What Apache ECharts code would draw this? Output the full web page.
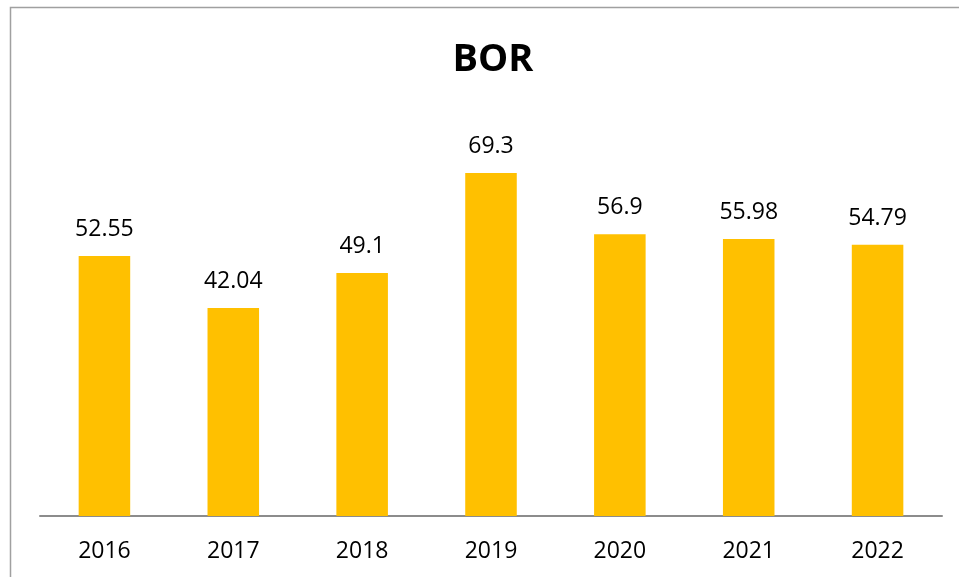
<!DOCTYPE html>
<html>
<head>
<meta charset="utf-8">
<script src="https://cdn.jsdelivr.net/npm/echarts@6/dist/echarts.min.js"></script>
<style>
  html, body { margin: 0; padding: 0; background: #fff; }
  #chart { width: 959px; height: 577px; }
</style>
</head>
<body>
<div id="chart"></div>
<script>
// Bed occupancy rate by year
const years = ['2016', '2017', '2018', '2019', '2020', '2021', '2022'];
const borValues = [52.55, 42.04, 49.1, 69.3, 56.9, 55.98, 54.79];
const chartTitle = 'BOR';

const FONT = '"Open Sans", "Noto Sans", sans-serif';

const chart = echarts.init(document.getElementById('chart'), null, { renderer: 'canvas' });

chart.setOption({
  animation: false,
  backgroundColor: '#ffffff',
  title: {
    text: chartTitle,
    left: 488,
    top: 36,
    textAlign: 'center',
    textStyle: { fontFamily: FONT, fontWeight: 'bold', fontSize: 38, color: '#000000' }
  },
  graphic: [{
    type: 'rect',
    silent: true,
    shape: { x: 10.5, y: 7.5, width: 1000, height: 700 },
    style: { fill: null, stroke: '#a0a0a0', lineWidth: 1.5 }
  }],
  grid: { left: 40, right: 17, top: 120, bottom: 61 },
  xAxis: {
    type: 'category',
    data: years,
    axisLine: { show: true, lineStyle: { color: '#8c8c8c', width: 2 } },
    axisTick: { show: false },
    axisLabel: { margin: 24, fontFamily: FONT, fontSize: 23, color: '#000000' }
  },
  yAxis: {
    type: 'value',
    min: 0,
    max: 80,
    show: false,
    splitLine: { show: false }
  },
  series: [{
    type: 'bar',
    data: borValues,
    barWidth: '40%',
    itemStyle: { color: '#ffc000' },
    label: {
      show: true,
      position: 'top',
      distance: 15,
      fontFamily: FONT,
      fontSize: 23,
      color: '#000000'
    }
  }]
});
</script>
</body>
</html>
